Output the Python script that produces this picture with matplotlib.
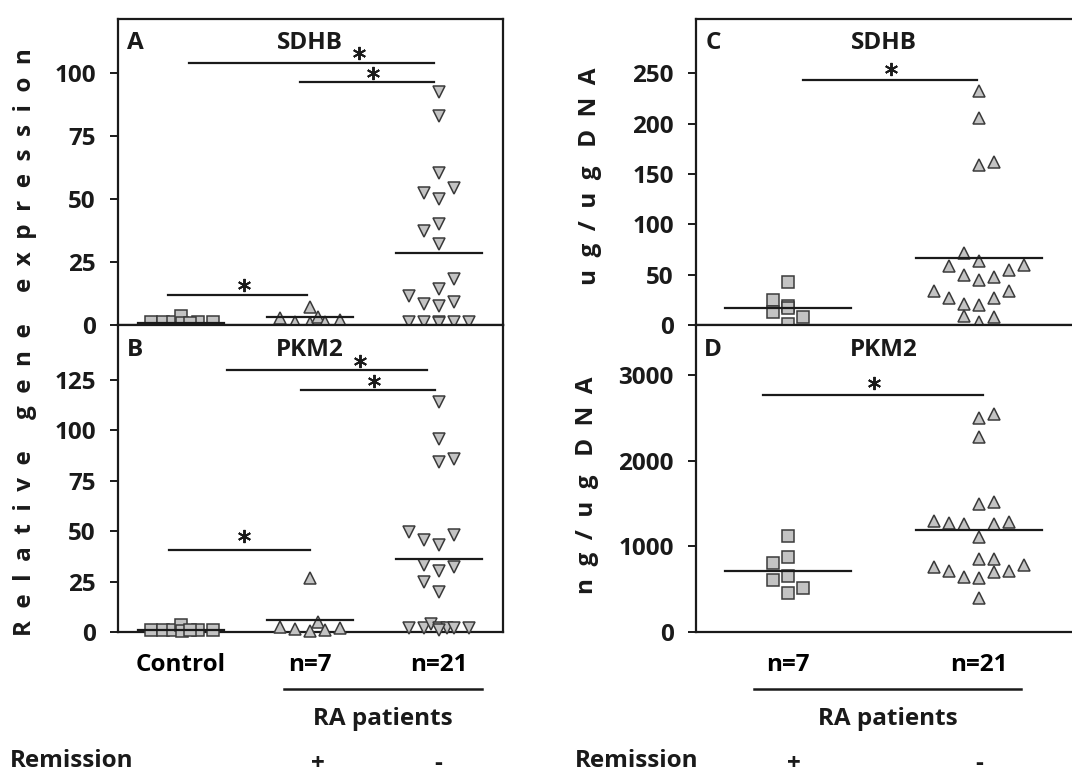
import matplotlib.pyplot as plt
from matplotlib.transforms import blended_transform_factory

plt.rcParams['font.family'] = ['Open Sans', 'DejaVu Sans']

# ---------------- data ----------------
# slots = horizontal position inside a group, in marker widths
# Panel A: SDHB relative gene expression
a_ctrl = [1.2, 1.1, 1.0, 3.6, 0.6, 1.1, 1.2, 0.9]
a_ctrl_slot = [-2.0, -1.2, -0.5, 0.0, 0.1, 1.1, 2.1, 0.6]
a_rem = [2.6, 1.3, 7.0, 0.7, 3.3, 1.3, 2.0]
a_rem_slot = [-2, -1, 0, 0, 0.5, 1, 2]
a_act = [92.6, 82.9, 60.2, 54.2, 52.3, 50.0, 40.1, 37.3, 32.0, 18.3, 14.2,
         11.5, 8.3, 7.5, 9.0, 1.3, 1.3, 1.0, 1.3, 1.3, 0.6]
a_act_slot = [0, 0, 0, 1, -1, 0, 0, -1, 0, 1, 0, -2, -1, 0, 1, -2, -1, 0, 1, 2, 0]
a_median = [0.9, 3.0, 28.4]
a_bars = [(0.06, 1.96, 104.1), (0.92, 1.96, 96.3), (-0.10, 0.98, 11.8)]
a_stars = [(1.38, 108.0), (1.49, 99.8), (0.49, 15.8)]

# Panel B: PKM2 relative gene expression
b_ctrl = [1.0, 1.0, 0.9, 3.5, 0.5, 1.0, 1.0, 0.8]
b_ctrl_slot = [-2.0, -1.2, -0.5, 0.0, 0.1, 1.1, 2.1, 0.6]
b_rem = [26.9, 2.6, 1.3, 0.3, 5.1, 1.0, 1.8]
b_rem_slot = [0, -2, -1, 0, 0.5, 1, 2]
b_act = [114.0, 95.5, 84.3, 85.5, 49.7, 45.5, 43.1, 48.0, 33.2, 30.4, 32.3,
         24.9, 20.0, 1.8, 1.8, 4.0, 1.8, 1.8, 1.8, 1.8, 0.8]
b_act_slot = [0, 0, 0, 1, -2, -1, 0, 1, -1, 0, 1, -1, 0, -2, -1, -0.5, 0, 0.5, 1, 2, 0]
b_median = [0.9, 5.9, 36.0]
b_bars = [(0.36, 1.91, 129.7), (0.93, 1.97, 119.8), (-0.09, 1.00, 40.6)]
b_stars = [(1.39, 134.3), (1.50, 124.4), (0.49, 47.3)]

# Panel C: SDHB protein (ug/ug DNA)
c_rem = [42.9, 24.8, 12.6, 18.8, 7.6, 1.0, 17.2]
c_rem_slot = [0, -1, -1, 0, 1, 0, 0]
c_act = [232.2, 205.8, 158.6, 162.2, 71.7, 63.7, 58.5, 59.5, 54.5, 49.6, 47.3,
         44.6, 34.0, 34.0, 27.1, 27.1, 20.8, 19.8, 8.9, 7.6, 3.3]
c_act_slot = [0, 0, 0, 1, -1, 0, -2, 3, 2, -1, 1, 0, -3, 2, -2, 1, -1, 0, -1, 1, 0]
c_median = [17.2, 66.7]
c_bars = [(0.08, 0.99, 243.8)]
c_stars = [(0.54, 254.7)]

# Panel D: PKM2 protein (ng/ug DNA)
d_rem = [1123, 870, 804, 648, 602, 513, 455]
d_rem_slot = [0, 0, -1, 0, -1, 1, 0]
d_act = [2545, 2495, 2280, 1523, 1492, 1290, 1271, 1263, 1263, 1278, 1108,
         855, 855, 758, 785, 707, 695, 707, 637, 630, 396]
d_act_slot = [1, 0, 0, 1, 0, -3, -2, -1, 1, 2, 0, 0, 1, -3, 3, -2, 1, 2, -1, 0, 0]
d_median = [715, 1185]
d_bars = [(-0.13, 1.02, 2763)]
d_stars = [(0.45, 2910)]

left_groups = ['Control', 'n=7', 'n=21']
right_groups = ['n=7', 'n=21']

# ---------------- style ----------------
FACE = '#c3c3c3'
EDGE = '#3a3a3a'
INK = '#1a1a1a'
FS = 17.5

fig = plt.figure(figsize=(10.72, 7.76), dpi=100)

W, H = 1072.0, 776.0
def box(x0, y0, x1, y1):
    # pixel box (top-left origin) -> figure fraction
    return [x0 / W, 1 - y1 / H, (x1 - x0) / W, (y1 - y0) / H]

axA = fig.add_axes(box(118, 19, 503, 325))
axB = fig.add_axes(box(118, 325, 503, 632))
axC = fig.add_axes(box(696, 19, 1076, 325))
axD = fig.add_axes(box(696, 325, 1076, 632))


def scatter_group(ax, center, values, slots, step, marker, ms):
    xs = [center + s * step for s in slots]
    ax.plot(xs, values, linestyle='none', marker=marker, ms=ms,
            mfc=FACE, mec=EDGE, mew=1.1, zorder=3, clip_on=False)


def decorate(ax, medians, bars, stars, half=0.33):
    for i, m in enumerate(medians):
        ax.plot([i - half, i + half], [m, m], color=INK, lw=1.6, zorder=4)
    for x0, x1, y in bars:
        ax.plot([x0, x1], [y, y], color=INK, lw=1.6, zorder=4)
    for x, y in stars:
        ax.plot(x, y, marker=(6, 2, 0), ms=9.5, mew=1.4, color=INK,
                linestyle='none', zorder=4)


def frame(ax, ylim, yticks, xlim):
    ax.set_xlim(*xlim)
    ax.set_ylim(*ylim)
    ax.set_yticks(yticks)
    ax.set_yticklabels([str(t) for t in yticks], fontsize=FS, fontweight='bold')
    ax.tick_params(axis='y', direction='out', length=6, width=1.4, pad=10,
                   colors=INK)
    ax.tick_params(axis='x', length=0)
    for sp in ax.spines.values():
        sp.set_linewidth(1.6)
        sp.set_color(INK)


LSTEP = 0.118
RSTEP = 0.079
LXLIM = (-0.488, 2.496)
RXLIM = (-0.484, 1.51)

# panel A
frame(axA, (0, 121.4), [0, 25, 50, 75, 100], LXLIM)
scatter_group(axA, 0, a_ctrl, a_ctrl_slot, LSTEP, 's', 8)
scatter_group(axA, 1, a_rem, a_rem_slot, LSTEP, '^', 9.2)
scatter_group(axA, 2, a_act, a_act_slot, LSTEP, 'v', 9.2)
decorate(axA, a_median, a_bars, a_stars)
axA.set_xticks([])

# panel B
frame(axB, (0, 152), [0, 25, 50, 75, 100, 125], LXLIM)
scatter_group(axB, 0, b_ctrl, b_ctrl_slot, LSTEP, 's', 8)
scatter_group(axB, 1, b_rem, b_rem_slot, LSTEP, '^', 9.2)
scatter_group(axB, 2, b_act, b_act_slot, LSTEP, 'v', 9.2)
decorate(axB, b_median, b_bars, b_stars)
axB.set_xticks(range(len(left_groups)))
axB.set_xticklabels(left_groups, fontsize=FS, fontweight='bold')
axB.tick_params(axis='x', pad=15)

# panel C
frame(axC, (0, 304), [0, 50, 100, 150, 200, 250], RXLIM)
scatter_group(axC, 0, c_rem, c_rem_slot, RSTEP, 's', 8)
scatter_group(axC, 1, c_act, c_act_slot, RSTEP, '^', 9.2)
decorate(axC, c_median, c_bars, c_stars)
axC.set_xticks([])

# panel D
frame(axD, (0, 3583), [0, 1000, 2000, 3000], RXLIM)
scatter_group(axD, 0, d_rem, d_rem_slot, RSTEP, 's', 8)
scatter_group(axD, 1, d_act, d_act_slot, RSTEP, '^', 9.2)
decorate(axD, d_median, d_bars, d_stars)
axD.set_xticks(range(len(right_groups)))
axD.set_xticklabels(right_groups, fontsize=FS, fontweight='bold')
axD.tick_params(axis='x', pad=15)

# panel letters and gene names
for ax, letter, gene, gx in [(axA, 'A', 'SDHB', 1.0), (axB, 'B', 'PKM2', 1.0),
                             (axC, 'C', 'SDHB', 0.5), (axD, 'D', 'PKM2', 0.5)]:
    ax.text(0.045, 0.92, letter, transform=ax.transAxes, fontsize=FS,
            fontweight='bold', ha='center', va='center', color=INK)
    tr = blended_transform_factory(ax.transData, ax.transAxes)
    ax.text(gx, 0.92, gene, transform=tr, fontsize=FS, fontweight='bold',
            ha='center', va='center', color=INK)

# "RA patients" brackets and remission row
for ax, x0, x1, xmid, plus_x, minus_x in [(axB, 0.80, 2.33, 1.566, 1.06, 1.99),
                                          (axD, -0.18, 1.22, 0.521, 0.03, 1.0)]:
    tr = blended_transform_factory(ax.transData, ax.transAxes)
    ax.plot([x0, x1], [-0.186, -0.186], transform=tr, color=INK, lw=1.8,
            clip_on=False)
    ax.text(xmid, -0.283, 'RA patients', transform=tr, fontsize=FS,
            fontweight='bold', ha='center', va='center', color=INK)
    ax.text(plus_x, -0.43, '+', transform=tr, fontsize=FS, fontweight='bold',
            ha='center', va='center', color=INK)
    ax.text(minus_x, -0.43, '-', transform=tr, fontsize=FS, fontweight='bold',
            ha='center', va='center', color=INK)

fig.text(10 / W, 1 - 761 / H, 'Remission', fontsize=FS, fontweight='bold',
         ha='left', va='center', color=INK)
fig.text(575 / W, 1 - 761 / H, 'Remission', fontsize=FS, fontweight='bold',
         ha='left', va='center', color=INK)


def spaced(words, gap):
    return gap.join('  '.join(w) for w in words)


fig.text(25 / W, 1 - 342 / H, spaced(['Relative', 'gene', 'expression'], '     '),
         rotation=90, fontsize=FS, fontweight='bold', ha='center', va='center',
         color=INK)
fig.text(590 / W, 1 - 176 / H, spaced(['ug/ug', 'DNA'], '   '), rotation=90,
         fontsize=FS, fontweight='bold', ha='center', va='center', color=INK)
fig.text(587 / W, 1 - 485 / H, spaced(['ng/ug', 'DNA'], '   '), rotation=90,
         fontsize=FS, fontweight='bold', ha='center', va='center', color=INK)

fig.savefig('out.png', dpi=100)
